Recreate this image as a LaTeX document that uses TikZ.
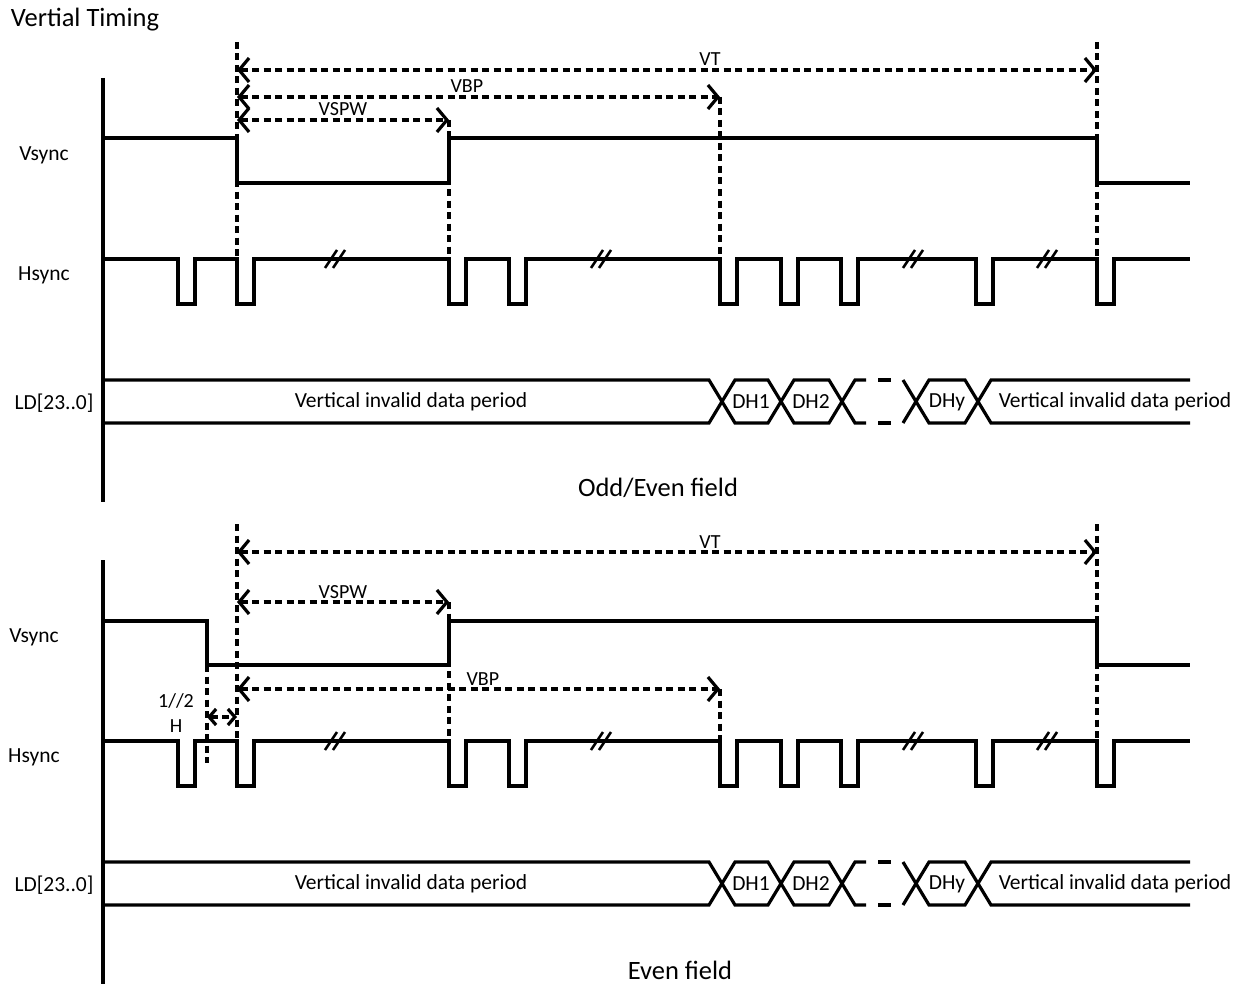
\documentclass[tikz,border=0pt]{standalone}
\usepackage{fontspec}
\setmainfont{Carlito}
\usetikzlibrary{calc, arrows.meta}
\tikzset{
  >={Straight Barb[length=10pt, width=24pt]},
  wave/.style={line width=3.2pt},
  guide/.style={line width=3.2pt, dash pattern=on 7pt off 4.5pt},
  dim/.style={guide, <->},
  dimlbl/.style={font=\fontsize{20}{24}\selectfont, inner sep=0pt, anchor=base, yshift=4pt},
  sig/.style={font=\fontsize{21.5}{25}\selectfont, inner sep=0pt},
  caption/.style={font=\fontsize{26.5}{31}\selectfont, inner sep=0pt},
}

\begin{document}
\begin{tikzpicture}[x=1pt, y=-1pt]
\useasboundingbox (0,0) rectangle (1249,987);
\node[caption] (title) at (85,20) {Vertial Timing};

% what both fields share
\foreach \dy/\p/\lx in {0/odd/44, 482/even/34} {
\begin{scope}[shift={(0,\dy)}]
  \coordinate (\p-vt-l) at (237,70);
  \coordinate (\p-vt-r) at (1097,70);
  \coordinate (\p-vspw-l) at (237,120);
  \coordinate (\p-vspw-r) at (449,120);
  \draw[guide] (237,42) -- (237,259) (449,120) -- (449,259) (1097,42) -- (1097,259);
  \path (\p-vt-l) edge[dim] node[dimlbl, pos=0.55] (\p-vt) {VT} (\p-vt-r)
        (\p-vspw-l) edge[dim] node[dimlbl, pos=0.5] (\p-vspw) {VSPW} (\p-vspw-r);
  \draw[wave] (103,78) -- (103,502);
  \node[sig] (\p-vsync) at (\lx,155) {Vsync};
  \node[sig] (\p-hsync) at (\lx,275) {Hsync};
  \node[sig] (\p-ld) at (54,403) {LD[23..0]};
  % Hsync with its pulses and breaks
  \draw[wave] (103,259) foreach \x in {178,237,449,509,720,781,841,976,1097} { -- (\x,259) -- ++(0,45) -- ++(17,0) -- ++(0,-45) } -- (1190,259);
  \foreach \b in {335,601,913,1047}
    \draw[wave, line width=2.6pt] (\b-10,268) -- ++(12,-18) (\b-2,268) -- ++(12,-18);
  % data bus
  \draw[wave] (103,380) -- (709,380) -- (722,401.5) -- (709,423) -- (103,423);
  \foreach \a/\b in {722/781, 781/842, 916/978}
    \draw[wave] (\a,401.5) -- (\a+13,380) -- (\b-13,380) -- (\b,401.5) -- (\b-13,423) -- (\a+13,423) -- cycle;
  \draw[wave] (866,380) -- (855,380) -- (842,401.5) -- (855,423) -- (866,423);
  \draw[wave] (878,380) -- (891,380) (878,423) -- (891,423);
  \draw[wave] (903,380) -- (916,401.5) -- (903,423);
  \draw[wave] (1190,380) -- (991,380) -- (978,401.5) -- (991,423) -- (1190,423);
  \node[sig] (\p-inv1) at (411,402) {Vertical invalid data period};
  \node[sig] (\p-dh1) at (751,402) {DH1};
  \node[sig] (\p-dh2) at (811,402) {DH2};
  \node[sig] (\p-dhy) at (947,402) {DHy};
  \node[sig] (\p-inv2) at (1115,402) {Vertical invalid data period};
\end{scope}
}

% odd/even field
\coordinate (odd-vbp-l) at (237,97);
\coordinate (odd-vbp-r) at (720,97);
\draw[guide] (odd-vbp-r) -- (720,259);
\path (odd-vbp-l) edge[dim] node[dimlbl, pos=0.476] (odd-vbp) {VBP} (odd-vbp-r);
\draw[wave] (103,138) -- (237,138) -- (237,183) -- (449,183) -- (449,138) -- (1097,138) -- (1097,183) -- (1190,183);
\node[caption] (odd-cap) at (658,488) {Odd/Even field};

% even field
\coordinate (even-vbp-l) at (237,689);
\coordinate (even-vbp-r) at (720,689);
\coordinate (half-l) at (207,717);
\coordinate (half-r) at (237,717);
\draw[guide] (even-vbp-r) -- (720,741) (207,665) -- (207,763);
\path (even-vbp-l) edge[dim] node[dimlbl, pos=0.509] (even-vbp) {VBP} (even-vbp-r)
      (half-l) edge[dim, >={Straight Barb[length=7pt, width=16pt]}] (half-r);
\node[dimlbl, anchor=center, yshift=0pt, align=center, font=\fontsize{20}{25}\selectfont] (half) at (176,717) {1//2\\H};
\draw[wave] (103,621) -- (207,621) -- (207,665) -- (449,665) -- (449,621) -- (1097,621) -- (1097,665) -- (1190,665);
\node[caption] (even-cap) at (680,970) {Even field};
\end{tikzpicture}
\end{document}
